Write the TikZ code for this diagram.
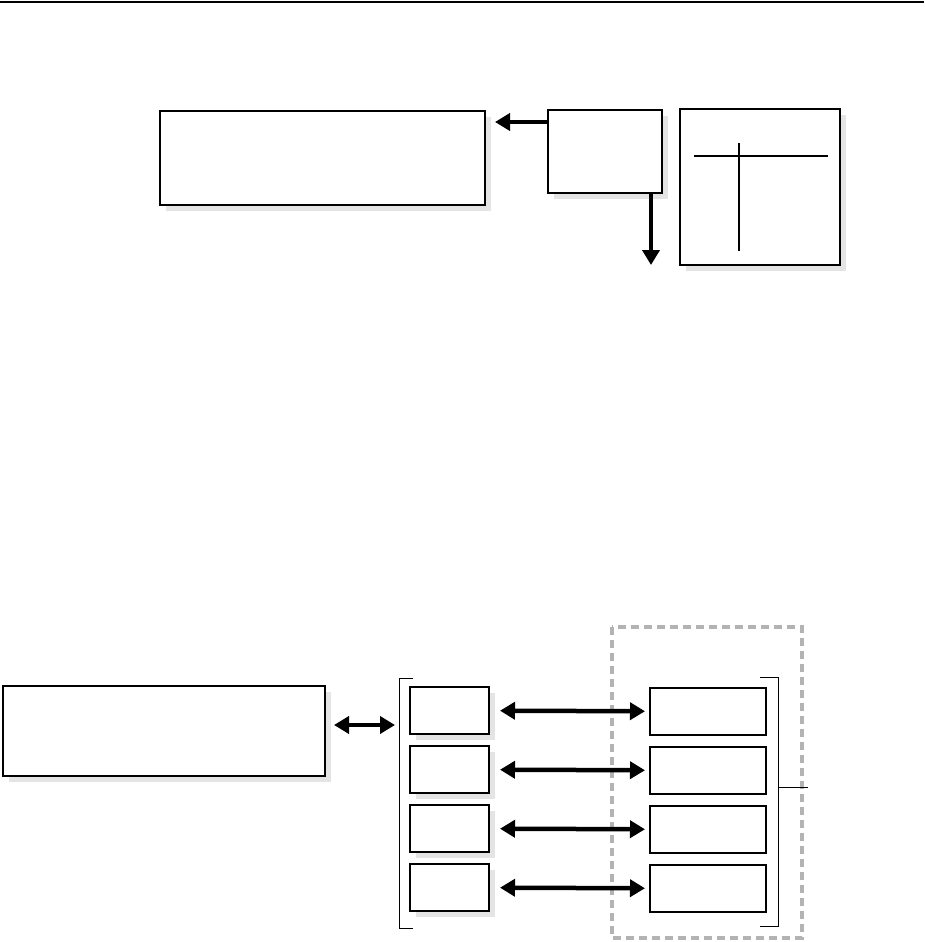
\documentclass[tikz,border=0pt]{standalone}
\usetikzlibrary{arrows.meta, positioning, shadows, backgrounds}
\definecolor{shadowgray}{RGB}{228, 228, 228}
\definecolor{dashgray}{RGB}{179, 179, 179}
\tikzset{
  box/.style={draw, fill=white, line width=1.5pt, anchor=north west, inner sep=0pt, outer sep=0pt},
  sbox/.style={box, drop shadow={shadow xshift=6pt, shadow yshift=-6pt, fill=shadowgray, opacity=1}},
  arr/.style={-{Triangle[length=15pt, width=17pt]}, line width=4.5pt},
  dblarr/.style={{Triangle[length=15pt, width=17pt]}-{Triangle[length=15pt, width=17pt]}, line width=4.5pt},
  brk/.style={line width=1pt}
}

\begin{document}
\begin{tikzpicture}[x=1pt, y=-1pt]
  \useasboundingbox (0,0) rectangle (924,942);
  \draw[line width=2pt] (0,2) -- (924,2);

  % upper part
  \node[sbox, minimum width=325pt, minimum height=94pt] (A) at (160,111) {};
  \node[sbox, minimum width=114pt, minimum height=83pt] (B) at (548,110) {};
  \node[sbox, minimum width=160pt, minimum height=156pt] (C) at (680,109) {};
  \coordinate (aout) at (495,122);
  \coordinate (bout) at (651,265);
  \draw[arr] (aout -| B.west) -- (aout);
  \draw[arr] (bout |- B.south) -- (bout);
  \draw[line width=1.8pt] ([shift={(14,47)}]C.north west) -- ([shift={(148,47)}]C.north west);
  \draw[line width=1.8pt] ([shift={(59,34)}]C.north west) -- ([shift={(59,142)}]C.north west);

  % lower part
  \node[sbox, minimum width=322pt, minimum height=90pt] (D) at (3,686) {};
  \node[sbox, minimum width=79pt, minimum height=47pt] (e1) at (410,687) {};
  \node[sbox, minimum width=79pt, minimum height=47pt, below=12pt of e1.south west, anchor=north west] (e2) {};
  \node[sbox, minimum width=79pt, minimum height=47pt, below=12pt of e2.south west, anchor=north west] (e3) {};
  \node[sbox, minimum width=79pt, minimum height=47pt, below=12pt of e3.south west, anchor=north west] (e4) {};
  \node[box, minimum width=116pt, minimum height=47pt] (f1) at (650,688) {};
  \node[box, minimum width=116pt, minimum height=47pt, below=12pt of f1.south west, anchor=north west] (f2) {};
  \node[box, minimum width=116pt, minimum height=47pt, below=12pt of f2.south west, anchor=north west] (f3) {};
  \node[box, minimum width=116pt, minimum height=47pt, below=12pt of f3.south west, anchor=north west] (f4) {};

  \coordinate (lbtop) at (399,678);
  \coordinate (lbbot) at (399,928);
  \coordinate (lbin) at (395,725);
  \coordinate (rbtop) at (778,677);
  \coordinate (rbbot) at (778,926);
  \coordinate (rbout) at (808,787);

  \begin{scope}[on background layer]
    \draw[dashgray, line width=4pt, dash pattern=on 8pt off 5pt] (612,627) rectangle (802,938);
  \end{scope}

  \draw[brk] ([xshift=14pt]lbtop) -- (lbtop) -- (lbbot) -- ([xshift=14pt]lbbot);
  \draw[brk] ([xshift=-18pt]rbtop) -- (rbtop) -- (rbbot) -- ([xshift=-18pt]rbbot);
  \draw[brk] (rbtop |- rbout) -- (rbout);

  \draw[dblarr, shorten <=9pt] (lbin -| D.east) -- (lbin);
  \draw[dblarr, shorten <=11pt, shorten >=5pt] (e1) -- (f1);
  \draw[dblarr, shorten <=11pt, shorten >=5pt] (e2) -- (f2);
  \draw[dblarr, shorten <=11pt, shorten >=5pt] (e3) -- (f3);
  \draw[dblarr, shorten <=11pt, shorten >=5pt] (e4) -- (f4);
\end{tikzpicture}
\end{document}
